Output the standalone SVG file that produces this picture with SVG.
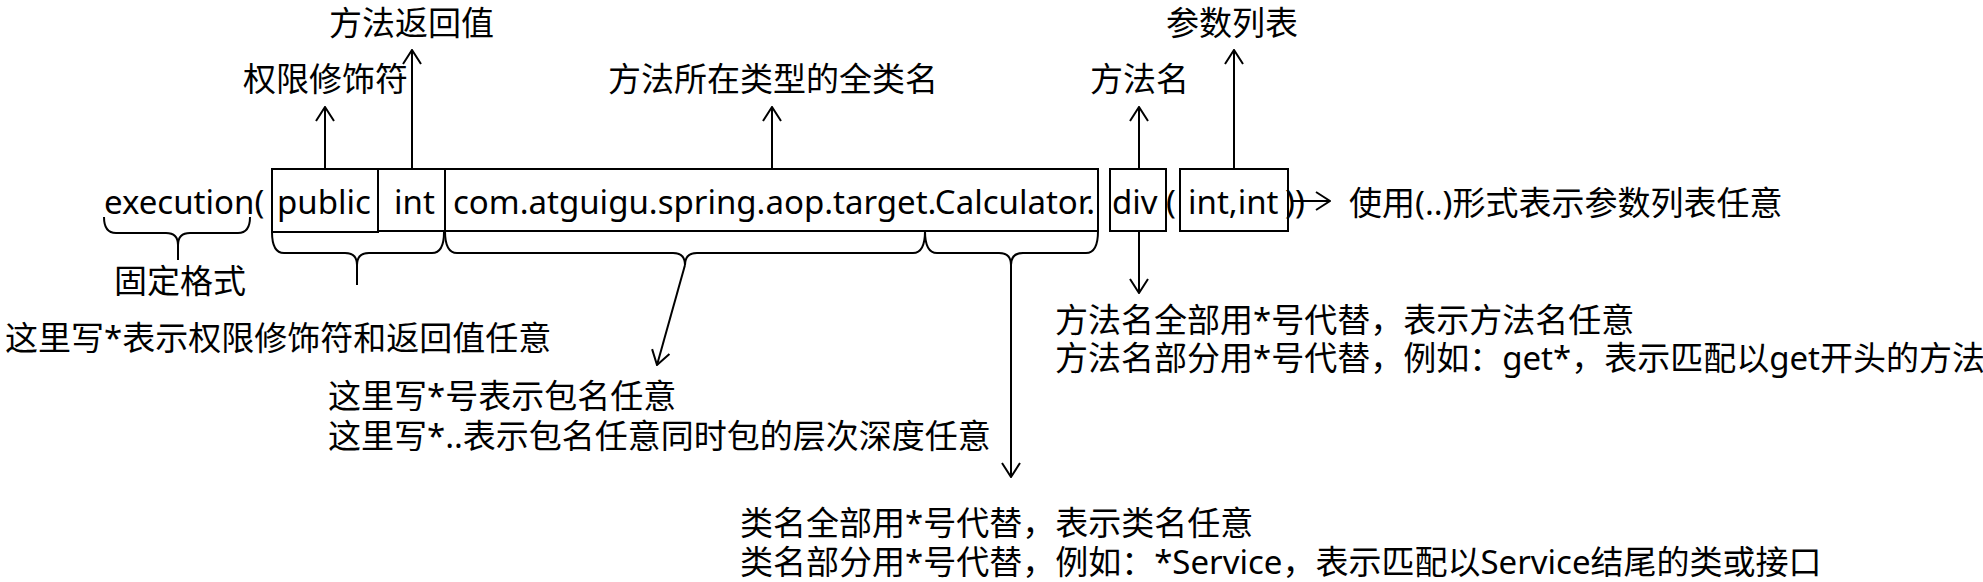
<svg xmlns="http://www.w3.org/2000/svg" width="1983" height="582" viewBox="0 0 1983 582">
<style>
text{font-family:"Noto Sans","Noto Sans CJK SC",sans-serif;font-size:33px;fill:#000}
.box{fill:none;stroke:#000;stroke-width:2}
.ln{fill:none;stroke:#000;stroke-width:2}
.arr{marker-end:url(#arr)}
</style>
<defs>
<marker id="arr" viewBox="0 0 16 20" refX="15" refY="10" markerWidth="16" markerHeight="20" markerUnits="userSpaceOnUse" orient="auto">
<path d="M1,1 L15,10 L1,19" fill="none" stroke="#000" stroke-width="2"/>
</marker>
</defs>
<rect width="1983" height="582" fill="#fff"/>

<g id="execution"><text x="104" y="214">execution(</text></g>
<g id="public"><rect class="box" x="272" y="169" width="106" height="63"/><text x="277" y="214">public</text></g>
<g id="int"><rect class="box" x="378" y="169" width="67" height="62"/><text x="394" y="214">int</text></g>
<g id="classname"><rect class="box" x="445" y="169" width="653" height="62"/><text x="453" y="214">com.atguigu.spring.aop.target.Calculator.</text></g>
<g id="div"><rect class="box" x="1110" y="169" width="56" height="62"/><text x="1112" y="214">div</text></g>
<g id="paren-open"><text x="1166" y="214">(</text></g>
<g id="params"><rect class="box" x="1180" y="169" width="108" height="62"/><text x="1188" y="214">int,int</text></g>
<g id="paren-close"><text x="1285" y="214">))</text></g>
<g id="params-note"><text x="1349" y="215">使用(..)形式表示参数列表任意</text></g>

<g id="label-modifier"><text x="243" y="91">权限修饰符</text></g>
<g id="label-return"><text x="329" y="35">方法返回值</text></g>
<g id="label-class"><text x="608" y="91">方法所在类型的全类名</text></g>
<g id="label-method"><text x="1090" y="91">方法名</text></g>
<g id="label-params"><text x="1166" y="35">参数列表</text></g>

<g id="label-fixed"><text x="114" y="293">固定格式</text></g>
<g id="note-modifier"><text x="5" y="350">这里写*表示权限修饰符和返回值任意</text></g>
<g id="note-package"><text x="328" y="408">这里写*号表示包名任意</text><text x="328" y="448">这里写*..表示包名任意同时包的层次深度任意</text></g>
<g id="note-method"><text x="1055" y="332">方法名全部用*号代替，表示方法名任意</text><text x="1055" y="370">方法名部分用*号代替，例如：get*，表示匹配以get开头的方法</text></g>
<g id="note-classname"><text x="740" y="535">类名全部用*号代替，表示类名任意</text><text x="740" y="574">类名部分用*号代替，例如：*Service，表示匹配以Service结尾的类或接口</text></g>

<g id="connectors">
<line class="ln arr" x1="325" y1="169" x2="325" y2="107"/>
<line class="ln arr" x1="412" y1="169" x2="412" y2="50"/>
<line class="ln arr" x1="772" y1="169" x2="772" y2="107"/>
<line class="ln arr" x1="1139" y1="169" x2="1139" y2="107"/>
<line class="ln arr" x1="1234" y1="169" x2="1234" y2="50"/>
<line class="ln arr" x1="1139" y1="231" x2="1139" y2="293"/>
<line class="ln arr" x1="1292" y1="201" x2="1330" y2="201"/>
<path class="ln" d="M104,217 Q104,233 116,233 L166,233 Q178,233 178,245 L178,260 M250,217 Q250,233 238,233 L190,233 Q178,233 178,245"/>
<path class="ln" d="M272,232 Q272,253 284,253 L345,253 Q357,253 357,265 L357,285 M444,232 Q444,253 432,253 L369,253 Q357,253 357,265"/>
<path class="ln" d="M445,231 Q445,253 457,253 L673,253 Q685,253 685,265 M925,231 Q925,253 913,253 L697,253 Q685,253 685,265"/>
<line class="ln arr" x1="685" y1="265" x2="657" y2="365"/>
<path class="ln" d="M925,231 Q925,253 937,253 L999,253 Q1011,253 1011,265 M1098,231 Q1098,253 1086,253 L1023,253 Q1011,253 1011,265"/>
<line class="ln arr" x1="1011" y1="265" x2="1011" y2="477"/>
</g>
</svg>
